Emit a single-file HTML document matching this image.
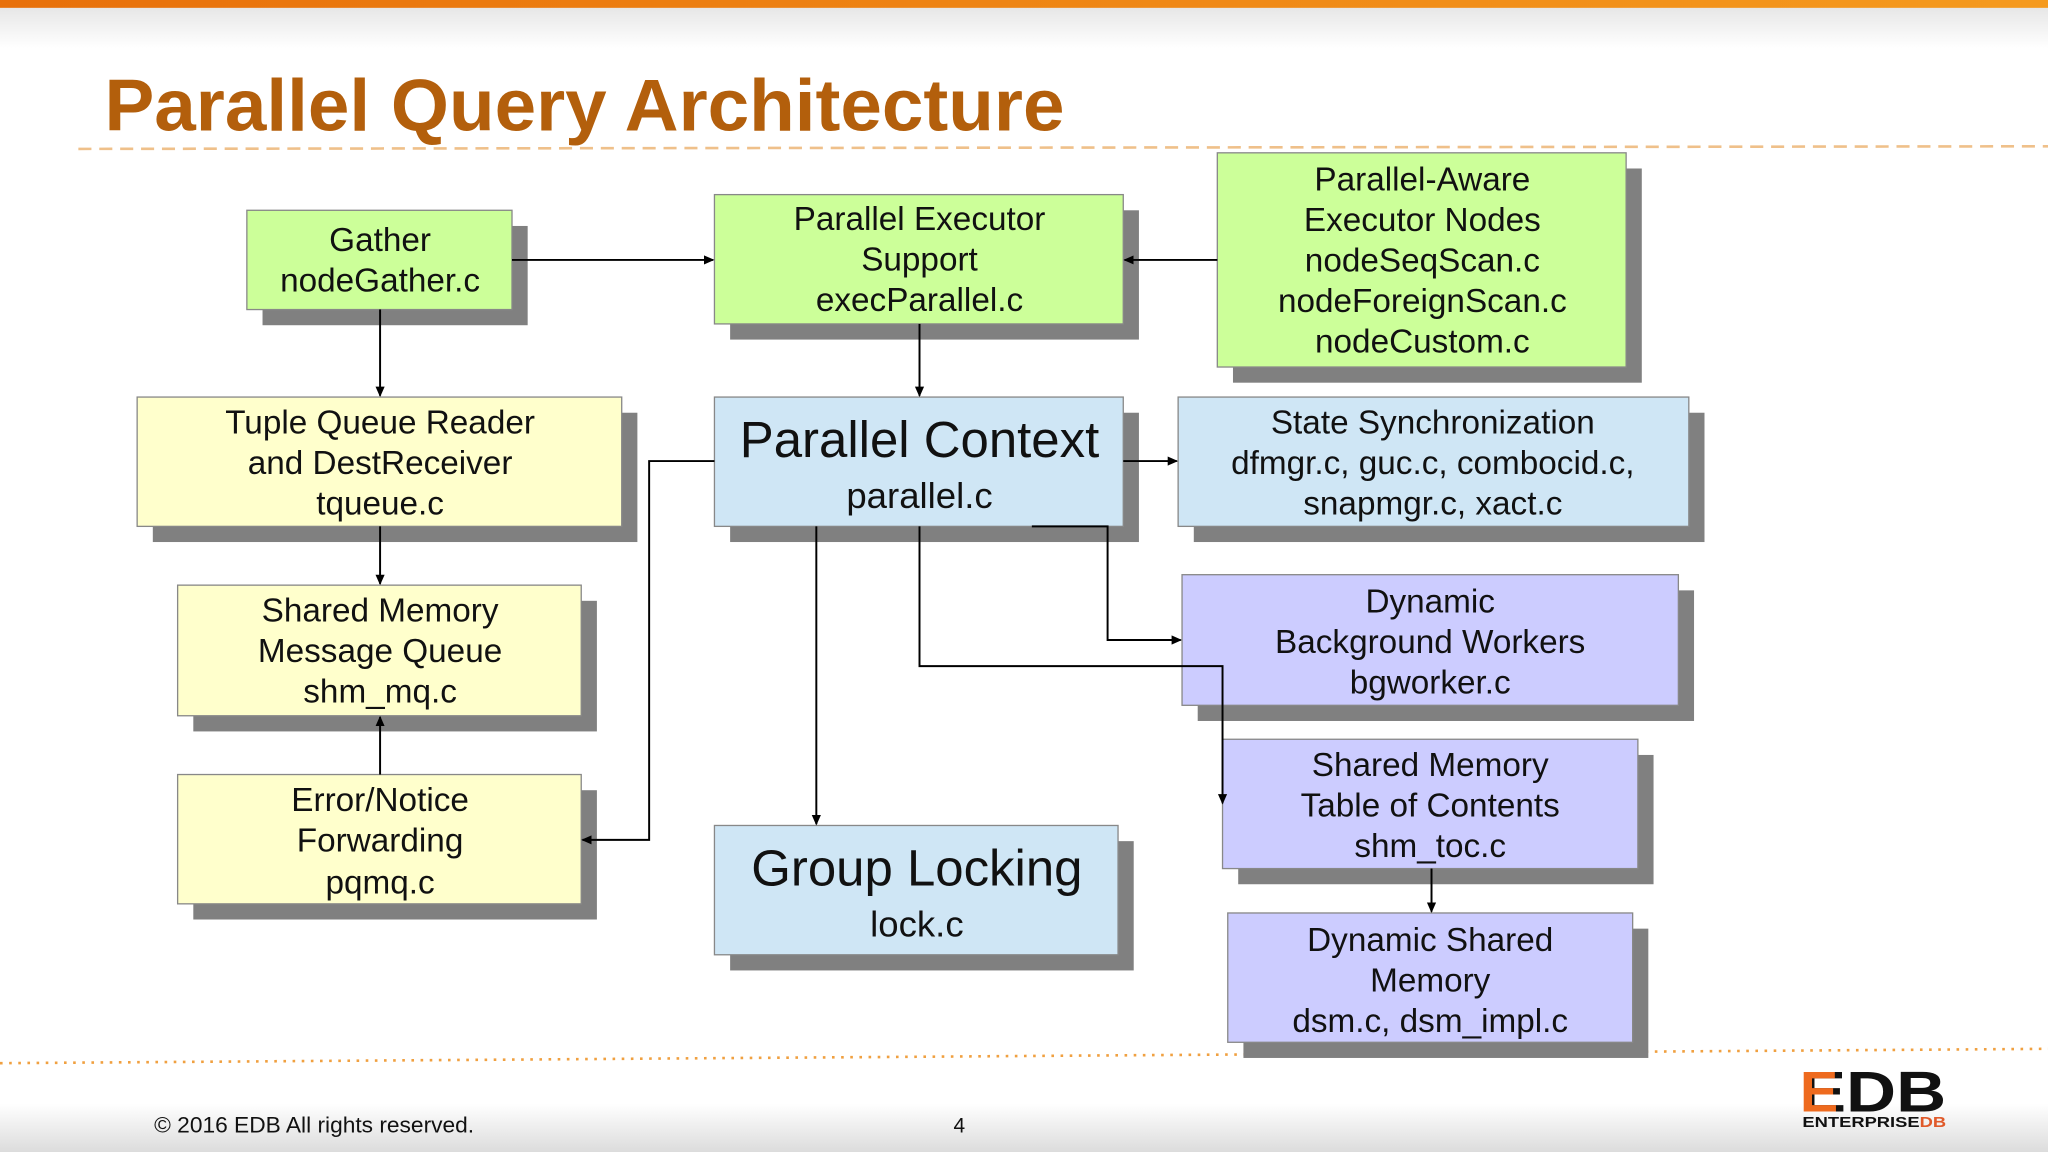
<!DOCTYPE html>
<html><head><meta charset="utf-8"><style>
html,body{margin:0;padding:0;background:#fff;}
svg{display:block;}
text{font-family:"Liberation Sans",Arial,sans-serif;fill:#111;}
</style></head><body>
<svg width="2048" height="1152" viewBox="0 0 1568 882" xmlns="http://www.w3.org/2000/svg">
<defs>
<linearGradient id="top" x1="0" y1="0" x2="0" y2="1"><stop offset="0" stop-color="#e6e6e6"/><stop offset="1" stop-color="#fff"/></linearGradient>
<linearGradient id="bot" x1="0" y1="0" x2="0" y2="1"><stop offset="0" stop-color="#fff"/><stop offset="1" stop-color="#dcdcdc"/></linearGradient>
<linearGradient id="bar" x1="0" y1="0" x2="1" y2="0"><stop offset="0" stop-color="#e8700a"/><stop offset="1" stop-color="#f59a1e"/></linearGradient>
<marker id="a" markerWidth="8" markerHeight="8" refX="7" refY="4" orient="auto" markerUnits="userSpaceOnUse"><path d="M0,0.5 L8,4 L0,7.5z" fill="#000"/></marker>
</defs>
<rect x="0" y="0" width="1568" height="882" fill="#fff"/>
<rect x="0" y="5" width="1568" height="32" fill="url(#top)"/>
<rect x="0" y="0" width="1568" height="6" fill="url(#bar)"/>
<rect x="0" y="845" width="1568" height="37" fill="url(#bot)"/>
<text x="80" y="100" font-size="56" font-weight="bold" style="fill:#b35f0c" textLength="735" lengthAdjust="spacingAndGlyphs">Parallel Query Architecture</text>
<line x1="60" y1="114" x2="1568" y2="112" stroke="#efc08a" stroke-width="2" stroke-dasharray="10,6"/>
<line x1="0" y1="814" x2="1568" y2="803" stroke="#f0a040" stroke-width="2" stroke-dasharray="2,5"/>

<g stroke="#888" stroke-width="1">
<rect x="201" y="173" width="203" height="76" fill="#808080" stroke="none"/>
<rect x="559" y="161" width="313" height="99" fill="#808080" stroke="none"/>
<rect x="944" y="129" width="313" height="164" fill="#808080" stroke="none"/>
<rect x="117" y="316" width="371" height="99" fill="#808080" stroke="none"/>
<rect x="559" y="316" width="313" height="99" fill="#808080" stroke="none"/>
<rect x="914" y="316" width="391" height="99" fill="#808080" stroke="none"/>
<rect x="148" y="460" width="309" height="100" fill="#808080" stroke="none"/>
<rect x="148" y="605" width="309" height="99" fill="#808080" stroke="none"/>
<rect x="559" y="644" width="309" height="99" fill="#808080" stroke="none"/>
<rect x="917" y="452" width="380" height="100" fill="#808080" stroke="none"/>
<rect x="948" y="578" width="318" height="99" fill="#808080" stroke="none"/>
<rect x="952" y="711" width="310" height="99" fill="#808080" stroke="none"/>
<rect x="189" y="161" width="203" height="76" fill="#ccff99"/>
<rect x="547" y="149" width="313" height="99" fill="#ccff99"/>
<rect x="932" y="117" width="313" height="164" fill="#ccff99"/>
<rect x="105" y="304" width="371" height="99" fill="#ffffcc"/>
<rect x="547" y="304" width="313" height="99" fill="#cfe6f5"/>
<rect x="902" y="304" width="391" height="99" fill="#cfe6f5"/>
<rect x="136" y="448" width="309" height="100" fill="#ffffcc"/>
<rect x="136" y="593" width="309" height="99" fill="#ffffcc"/>
<rect x="547" y="632" width="309" height="99" fill="#cfe6f5"/>
<rect x="905" y="440" width="380" height="100" fill="#ccccff"/>
<rect x="936" y="566" width="318" height="99" fill="#ccccff"/>
<rect x="940" y="699" width="310" height="99" fill="#ccccff"/>
</g>

<g stroke="#000" stroke-width="1.5" fill="none">
<line x1="392" y1="199" x2="546" y2="199" marker-end="url(#a)"/>
<line x1="932" y1="199" x2="861" y2="199" marker-end="url(#a)"/>
<line x1="291" y1="237" x2="291" y2="303" marker-end="url(#a)"/>
<line x1="704" y1="248" x2="704" y2="303" marker-end="url(#a)"/>
<line x1="291" y1="403" x2="291" y2="447" marker-end="url(#a)"/>
<line x1="291" y1="593" x2="291" y2="549" marker-end="url(#a)"/>
<polyline points="547,353 497,353 497,643 446,643" marker-end="url(#a)"/>
<line x1="860" y1="353" x2="901" y2="353" marker-end="url(#a)"/>
<line x1="625" y1="403" x2="625" y2="631" marker-end="url(#a)"/>
<polyline points="790,403 848,403 848,490 904,490" marker-end="url(#a)"/>
<polyline points="704,403 704,510 936,510 936,615" marker-end="url(#a)"/>
<line x1="1096" y1="665" x2="1096" y2="698" marker-end="url(#a)"/>
</g>

<g text-anchor="middle" font-size="25.5">
<text x="291" y="192">Gather</text><text x="291" y="223">nodeGather.c</text>
<text x="704" y="176">Parallel Executor</text><text x="704" y="207">Support</text><text x="704" y="238">execParallel.c</text>
<text x="1089" y="146">Parallel-Aware</text><text x="1089" y="177">Executor Nodes</text><text x="1089" y="208">nodeSeqScan.c</text><text x="1089" y="239">nodeForeignScan.c</text><text x="1089" y="270">nodeCustom.c</text>
<text x="291" y="332">Tuple Queue Reader</text><text x="291" y="363">and DestReceiver</text><text x="291" y="394">tqueue.c</text>
<text x="704" y="350" font-size="39">Parallel Context</text><text x="704" y="389" font-size="28">parallel.c</text>
<text x="1097" y="332">State Synchronization</text><text x="1097" y="363">dfmgr.c, guc.c, combocid.c,</text><text x="1097" y="394">snapmgr.c, xact.c</text>
<text x="291" y="476">Shared Memory</text><text x="291" y="507">Message Queue</text><text x="291" y="538">shm_mq.c</text>
<text x="291" y="621">Error/Notice</text><text x="291" y="652">Forwarding</text><text x="291" y="684">pqmq.c</text>
<text x="702" y="678" font-size="39">Group Locking</text><text x="702" y="717" font-size="28">lock.c</text>
<text x="1095" y="469">Dynamic</text><text x="1095" y="500">Background Workers</text><text x="1095" y="531">bgworker.c</text>
<text x="1095" y="594">Shared Memory</text><text x="1095" y="625">Table of Contents</text><text x="1095" y="656">shm_toc.c</text>
<text x="1095" y="728">Dynamic Shared</text><text x="1095" y="759">Memory</text><text x="1095" y="790">dsm.c, dsm_impl.c</text>
</g>

<text x="118" y="867" font-size="17" textLength="245" lengthAdjust="spacingAndGlyphs">© 2016 EDB All rights reserved.</text>
<text x="730" y="867" font-size="16">4</text>
<text x="1378" y="851" font-size="44" font-weight="bold" style="fill:#111" textLength="112" lengthAdjust="spacingAndGlyphs">EDB</text>
<text x="1378" y="851" font-size="44" font-weight="bold" style="fill:#ee6a1e">E</text>
<text x="1380" y="863" font-size="11" font-weight="bold" style="fill:#111" textLength="110" lengthAdjust="spacingAndGlyphs">ENTERPRISE<tspan style="fill:#e05a2a">DB</tspan></text>
</svg>
</body></html>
